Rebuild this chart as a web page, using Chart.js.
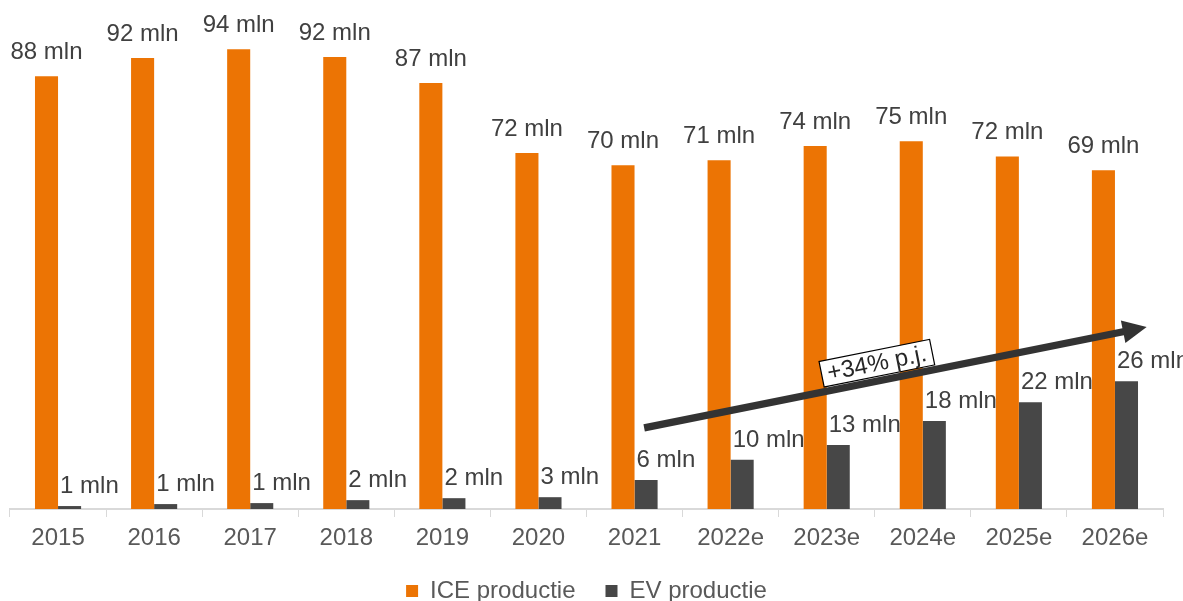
<!DOCTYPE html>
<html>
<head>
<meta charset="utf-8">
<script src="https://cdn.jsdelivr.net/npm/chart.js@4/dist/chart.umd.min.js"></script>
<style>
html,body{margin:0;padding:0;background:#fff;}
#wrap{width:1183px;height:601px;position:relative;}
</style>
</head>
<body>
<div id="wrap"><canvas id="c"></canvas></div>
<script>
const categories = ['2015','2016','2017','2018','2019','2020','2021','2022e','2023e','2024e','2025e','2026e'];
const iceValues = [88.0, 91.7, 93.5, 91.9, 86.6, 72.4, 69.9, 70.9, 73.8, 74.8, 71.7, 68.9];
const evValues = [0.6, 1.0, 1.2, 1.8, 2.2, 2.4, 5.9, 10.0, 13.0, 17.9, 21.7, 26.0];
const iceLabels = ['88 mln','92 mln','94 mln','92 mln','87 mln','72 mln','70 mln','71 mln','74 mln','75 mln','72 mln','69 mln'];
const evLabels = ['1 mln','1 mln','1 mln','2 mln','2 mln','3 mln','6 mln','10 mln','13 mln','18 mln','22 mln','26 mln'];
const seriesNames = ['ICE productie','EV productie'];
const arrowText = '+34% p.j.';
const arrowStart = {x: 6.10, y: 16.5};
const arrowEnd = {x: 11.33, y: 37.0};

const FONT = "'Liberation Sans', Arial, sans-serif";

const labelPlugin = {
  id: 'barLabels',
  afterDatasetsDraw(chart) {
    const ctx = chart.ctx;
    ctx.save();
    ctx.font = '24px ' + FONT;
    ctx.fillStyle = '#404040';
    ctx.textBaseline = 'alphabetic';
    const m0 = chart.getDatasetMeta(0);
    m0.data.forEach((bar, i) => {
      ctx.textAlign = 'center';
      ctx.fillText(iceLabels[i], bar.x, bar.y - 17);
    });
    const m1 = chart.getDatasetMeta(1);
    m1.data.forEach((bar, i) => {
      ctx.textAlign = 'left';
      ctx.fillText(evLabels[i], bar.x - bar.width / 2 + 2, bar.y - 13);
    });
    ctx.restore();
  }
};

const arrowPlugin = {
  id: 'trendArrow',
  afterDraw(chart) {
    const ctx = chart.ctx;
    const xs = chart.scales.x, ys = chart.scales.y;
    const x1 = xs.getPixelForValue(arrowStart.x), y1 = ys.getPixelForValue(arrowStart.y);
    const x2 = xs.getPixelForValue(arrowEnd.x), y2 = ys.getPixelForValue(arrowEnd.y);
    const ang = Math.atan2(y2 - y1, x2 - x1);
    const len = Math.hypot(x2 - x1, y2 - y1);
    ctx.save();
    ctx.translate(x1, y1);
    ctx.rotate(ang);
    ctx.fillStyle = '#333333';
    const headL = 24, headW = 11.5, lw = 3.6;
    ctx.beginPath();
    ctx.moveTo(0, -lw);
    ctx.lineTo(len - headL, -lw);
    ctx.lineTo(len - headL, -headW);
    ctx.lineTo(len, 0);
    ctx.lineTo(len - headL, headW);
    ctx.lineTo(len - headL, lw);
    ctx.lineTo(0, lw);
    ctx.closePath();
    ctx.fill();
    const cx = len * 0.47;
    ctx.font = '24px ' + FONT;
    const tw = ctx.measureText(arrowText).width;
    const bw = tw + 12, bh = 26;
    const cy = -lw - bh / 2 - 1;
    ctx.fillStyle = '#ffffff';
    ctx.fillRect(cx - bw / 2, cy - bh / 2, bw, bh);
    ctx.strokeStyle = '#000000';
    ctx.lineWidth = 1.2;
    ctx.strokeRect(cx - bw / 2, cy - bh / 2, bw, bh);
    ctx.fillStyle = '#262626';
    ctx.textAlign = 'center';
    ctx.textBaseline = 'middle';
    ctx.fillText(arrowText, cx, cy + 1);
    ctx.restore();
  }
};

new Chart(document.getElementById('c'), {
  type: 'bar',
  data: {
    labels: categories,
    datasets: [
      {label: seriesNames[0], data: iceValues, backgroundColor: '#EC7404', categoryPercentage: 0.48, barPercentage: 1.0},
      {label: seriesNames[1], data: evValues, backgroundColor: '#474747', categoryPercentage: 0.48, barPercentage: 1.0}
    ]
  },
  options: {
    responsive: true,
    maintainAspectRatio: false,
    animation: false,
    layout: {padding: {left: 10, right: 20, top: 0, bottom: -12}},
    scales: {
      x: {
        offset: true,
        afterFit: (scale) => { scale.height = 40; },
        grid: {display: true, offset: true, drawOnChartArea: false, drawTicks: true, tickLength: 8, color: '#d9d9d9', lineWidth: 1},
        border: {display: true, color: '#d9d9d9', width: 2},
        ticks: {font: {family: FONT, size: 24}, color: '#595959', padding: 7, maxRotation: 0, autoSkip: false}
      },
      y: {
        display: false,
        min: 0,
        max: 103.5
      }
    },
    plugins: {
      legend: {
        position: 'bottom',
        labels: {font: {family: FONT, size: 24}, color: '#595959', boxWidth: 12, boxHeight: 12, padding: 30}
      },
      tooltip: {enabled: false}
    }
  },
  plugins: [labelPlugin, arrowPlugin]
});
</script>
</body>
</html>
